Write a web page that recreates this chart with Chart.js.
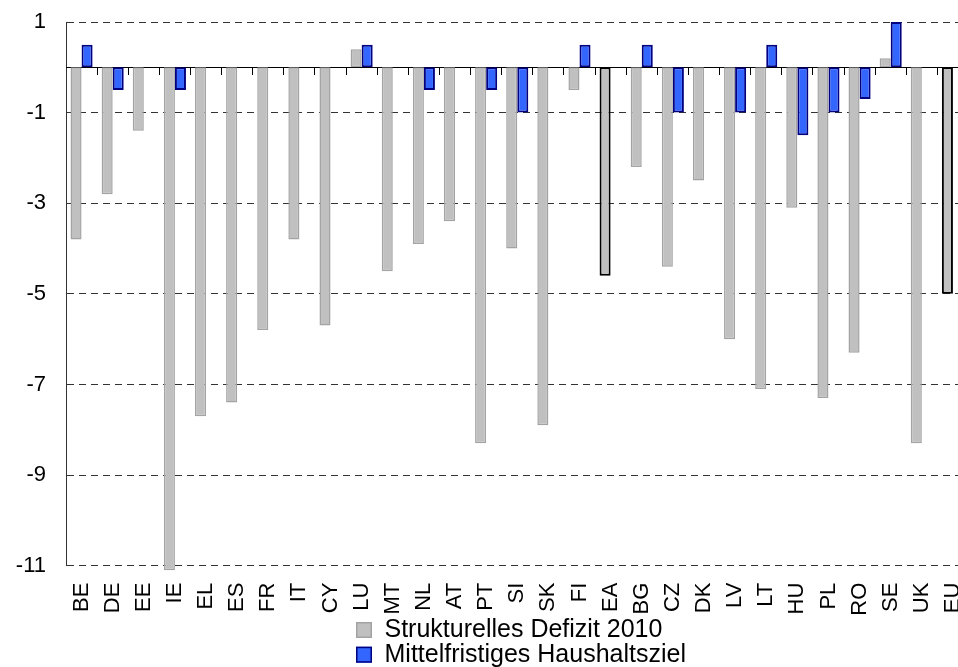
<!DOCTYPE html>
<html lang="de">
<head>
<meta charset="utf-8">
<title>Strukturelles Defizit 2010 und mittelfristiges Haushaltsziel</title>
<script src="https://cdn.jsdelivr.net/npm/chart.js@4/dist/chart.umd.min.js"></script>
<style>
  html, body { margin: 0; padding: 0; background: #fff; overflow: hidden; }
  #wrap { width: 958px; height: 667px; overflow: hidden; }
  canvas { display: block; }
</style>
</head>
<body>
<div id="wrap"><canvas id="chart" width="972" height="667"></canvas></div>
<script>
// Länder und Aggregate (EA = Euroraum, EU = Europäische Union)
const CATEGORIES = ['BE','DE','EE','IE','EL','ES','FR','IT','CY','LU','MT','NL','AT','PT','SI','SK','FI','EA','BG','CZ','DK','LV','LT','HU','PL','RO','SE','UK','EU'];

// Strukturelles Defizit 2010 (% des BIP)
const STRUCTURAL_DEFICIT_2010 = [-3.8,-2.8,-1.4,-11.1,-7.7,-7.4,-5.8,-3.8,-5.7,0.4,-4.5,-3.9,-3.4,-8.3,-4.0,-7.9,-0.5,-4.6,-2.2,-4.4,-2.5,-6.0,-7.1,-3.1,-7.3,-6.3,0.2,-8.3,-5.0];

// Mittelfristiges Haushaltsziel (% des BIP); null = kein Wert
const MEDIUM_TERM_OBJECTIVE = [0.5,-0.5,null,-0.5,null,null,null,null,null,0.5,null,-0.5,null,-0.5,-1.0,null,0.5,null,0.5,-1.0,null,-1.0,0.5,-1.5,-1.0,-0.7,1.0,null,null];

// Aggregate werden mit schwarzem Rahmen hervorgehoben
const AGGREGATES = ['EA','EU'];

// Beschriftete Werte der y-Achse
const Y_TICKS = [-11,-9,-7,-5,-3,-1,1];

const SERIES_LABELS = ['Strukturelles Defizit 2010','Mittelfristiges Haushaltsziel'];

const FONT = "'Liberation Sans', Arial, sans-serif";
const GRAY_FILL = '#c0c0c0', GRAY_EDGE = '#a3a3a3';
const BLUE_FILL = '#3366ff', BLUE_EDGE = '#000080';

Chart.defaults.font.family = FONT;
Chart.defaults.color = '#000';

// Legende: Einträge untereinander, linksbündig
const stackedLegend = {
  id: 'stackedLegend',
  afterDraw(chart, _args, opts) {
    const { ctx, chartArea } = chart;
    ctx.save();
    ctx.font = `${opts.fontSize}px ${FONT}`;
    ctx.textAlign = 'left';
    ctx.textBaseline = 'middle';
    opts.items.forEach((item, i) => {
      const cy = chartArea.bottom + opts.firstRow + i * opts.rowGap;
      const x = chartArea.left + opts.offsetX;
      const b = opts.boxSize;
      ctx.fillStyle = item.fill;
      ctx.fillRect(x, cy - b / 2, b, b);
      ctx.lineWidth = opts.boxBorder;
      ctx.strokeStyle = item.edge;
      ctx.strokeRect(x + 0.75, cy - b / 2 + 0.75, b - 1.5, b - 1.5);
      ctx.fillStyle = '#000';
      ctx.fillText(chart.data.datasets[i].label, x + b + opts.fontSize / 2, cy);
    });
    ctx.restore();
  }
};

new Chart(document.getElementById('chart'), {
  type: 'bar',
  data: {
    labels: CATEGORIES,
    datasets: [
      {
        label: SERIES_LABELS[0],
        data: STRUCTURAL_DEFICIT_2010,
        xAxisID: 'x', yAxisID: 'y',
        backgroundColor: GRAY_FILL,
        borderColor: c => AGGREGATES.includes(CATEGORIES[c.dataIndex]) ? '#000000' : GRAY_EDGE,
        borderWidth: c => AGGREGATES.includes(CATEGORIES[c.dataIndex]) ? 2 : 1.5,
        borderSkipped: false,
        categoryPercentage: 0.71,
        barPercentage: 1,
        clip: false
      },
      {
        label: SERIES_LABELS[1],
        data: MEDIUM_TERM_OBJECTIVE,
        xAxisID: 'x', yAxisID: 'y',
        backgroundColor: BLUE_FILL,
        borderColor: BLUE_EDGE,
        borderWidth: 2,
        borderSkipped: false,
        categoryPercentage: 0.71,
        barPercentage: 1
      }
    ]
  },
  options: {
    responsive: false,
    animation: false,
    devicePixelRatio: 1,
    layout: { padding: { left: 14, right: 3.5, top: 22, bottom: 51.3 } },
    scales: {
      x: {
        type: 'category',
        offset: true,
        grid: { display: false, drawTicks: false, offset: true },
        border: { display: false },
        ticks: {
          autoSkip: false, minRotation: 90, maxRotation: 90,
          padding: 17, font: { size: 22 }, color: '#000'
        },
        afterFit: s => { s.height = 50; s.paddingLeft = 0; s.paddingRight = 0; }
      },
      y: {
        min: -11,
        max: 1,
        afterBuildTicks: s => { s.ticks = Y_TICKS.map(v => ({ value: v })); },
        afterFit: s => { s.width = 52; s.paddingTop = 0; s.paddingBottom = 0; },
        grid: { color: '#333333', lineWidth: 1, drawTicks: false },
        border: { display: true, dash: [7, 5], color: '#333333', width: 1 },
        ticks: { padding: 20, font: { size: 22 }, color: '#000' }
      },
      // Nulllinie mit Teilstrichen zwischen den Ländern
      x0: {
        type: 'category',
        axis: 'x',
        position: { y: 0 },
        offset: true,
        z: 1,
        grid: { offset: true, drawOnChartArea: false, drawTicks: true, tickLength: 7, tickColor: '#000', tickWidth: 1 },
        border: { display: true, color: '#000', width: 1 },
        ticks: { display: false }
      }
    },
    plugins: {
      legend: { display: false },
      tooltip: { enabled: false },
      stackedLegend: {
        fontSize: 25,
        boxSize: 16,
        boxBorder: 1.5,
        offsetX: 290,
        firstRow: 64.3,
        rowGap: 24.7,
        items: [
          { fill: GRAY_FILL, edge: GRAY_EDGE },
          { fill: BLUE_FILL, edge: BLUE_EDGE }
        ]
      }
    }
  },
  plugins: [stackedLegend]
});
</script>
</body>
</html>
